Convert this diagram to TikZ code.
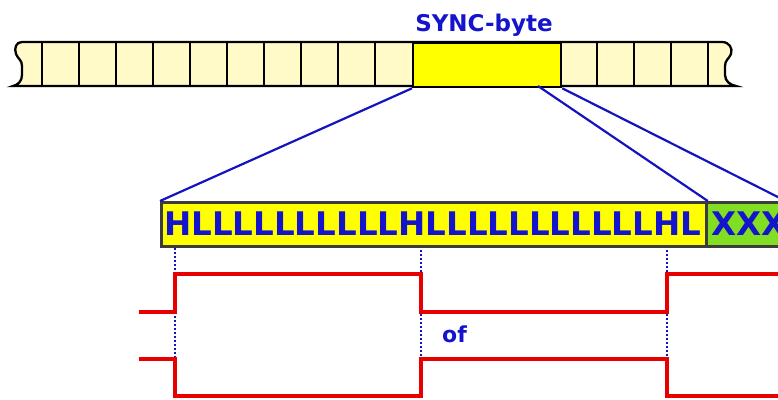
\documentclass[tikz,border=0pt]{standalone}
\usepackage{fontspec}
\setmainfont{DejaVu Sans}
\definecolor{bluetxt}{RGB}{20,20,205}
\definecolor{blueln}{RGB}{20,20,190}
\definecolor{cream}{RGB}{255,250,200}
\definecolor{syncy}{RGB}{255,255,0}
\definecolor{limeg}{RGB}{130,222,35}
\definecolor{sigred}{RGB}{232,0,0}
\definecolor{boxedge}{RGB}{60,60,60}
\begin{document}
\begin{tikzpicture}[x=1pt,y=-1pt,
  tapeline/.style={draw=black,line width=2.3pt},
  bitbox/.style={draw=boxedge,line width=2.8pt,minimum height=44pt,inner sep=0pt,anchor=north west},
  zoomline/.style={draw=blueln,line width=2.2pt},
  sig/.style={draw=sigred,line width=3.4pt,line join=miter},
  dotline/.style={draw=blueln,line width=1.6pt,dash pattern=on 1.6pt off 2.4pt},
  bluetext/.style={text=bluetxt,inner sep=0pt,font=\bfseries}]
\useasboundingbox (0,0) rectangle (778,399);
\clip (0,0) rectangle (778,399);
% tape
\path[fill=cream,tapeline] (22,42) -- (722,42)
  .. controls (729,42) and (733,48) .. (731,54)
  .. controls (729,59) and (725,60) .. (725,66) -- (725,75)
  .. controls (725,81) and (730,85) .. (736,86) -- (13,86)
  .. controls (18,85) and (22,81) .. (22,75) -- (22,66)
  .. controls (22,60) and (18,59) .. (16,54)
  .. controls (14,48) and (16,42) .. (22,42) -- cycle;
\foreach \x in {42,79,116,153,190,227,264,301,338,375,597,634,671,708}
  \draw[tapeline] (\x,42) -- (\x,86);
\node[draw=black,line width=2.3pt,fill=syncy,minimum width=148pt,minimum height=44pt,inner sep=0pt,anchor=north west] (sync) at (412,42) {};
\node[bluetext,anchor=base,font=\bfseries\fontsize{23}{26}\selectfont] (lbl) at (484,31.5) {SYNC-byte};
% zoomed bytes
\node[bitbox,fill=syncy,minimum width=545pt] (hl) at (160,201) {};
\node[bitbox,fill=limeg,minimum width=78pt] (xxx) at (705,201) {};
\node[bluetext,anchor=base west,font=\bfseries\fontsize{32.5}{36}\selectfont] (hltxt) at (164,235) {HLLLLLLLLLLHLLLLLLLLLLLHL};
\node[bluetext,anchor=base west,font=\bfseries\fontsize{32.5}{36}\selectfont] (xtxt) at (711,235) {XXX};
% zoom lines
\coordinate (s2) at (538,86);
\draw[zoomline] (sync.south west) -- (hl.north west);
\draw[zoomline] (s2) -- (hl.north east);
\draw[zoomline] (sync.south east) -- (xxx.north east);
% dotted markers
\coordinate (d1t) at (175,248); \coordinate (d1b) at (175,359);
\coordinate (d2t) at (421,250); \coordinate (d2b) at (421,359);
\coordinate (d3t) at (667,250); \coordinate (d3b) at (667,359);
\draw[dotline] (d1t) -- (d1b);
\draw[dotline] (d2t) -- (d2b);
\draw[dotline] (d3t) -- (d3b);
% signals
\draw[sig] (139,312) -- (175,312) -- (175,274) -- (421,274) -- (421,312) -- (667,312) -- (667,274) -- (790,274);
\draw[sig] (139,359) -- (175,359) -- (175,396) -- (421,396) -- (421,359) -- (667,359) -- (667,396) -- (790,396);
\node[bluetext,anchor=base west,font=\bfseries\fontsize{22}{24}\selectfont] (of) at (442,342) {of};
\end{tikzpicture}
\end{document}
